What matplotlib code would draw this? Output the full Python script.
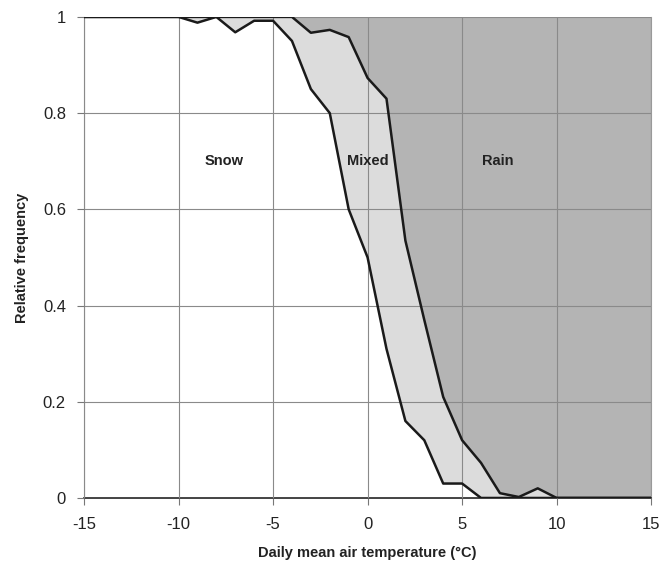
import matplotlib
matplotlib.use("Agg")
import matplotlib.pyplot as plt
import numpy as np

plt.rcParams['font.family'] = ['Liberation Sans', 'DejaVu Sans']
plt.rcParams['axes.unicode_minus'] = False

# daily mean air temperature (deg C)
temp = list(range(-15, 16))
# cumulative relative frequency: snow, snow + mixed
snow = [1, 1, 1, 1, 1, 1, 0.988, 1.0, 0.968, 0.992, 0.992, 0.95, 0.85, 0.80,
        0.60, 0.50, 0.31, 0.16, 0.12, 0.03, 0.03, 0, 0, 0, 0, 0, 0, 0, 0, 0, 0]
snow_mixed = [1, 1, 1, 1, 1, 1, 1, 1, 1, 1, 1, 1, 0.967, 0.973, 0.958, 0.873,
              0.83, 0.535, 0.37, 0.21, 0.12, 0.073, 0.01, 0.002, 0.02, 0,
              0, 0, 0, 0, 0]
labels = ["Snow", "Mixed", "Rain"]
label_x = [-7.6, 0, 6.9]

x = np.array(temp)
lo = np.array(snow)
hi = np.array(snow_mixed)

fig = plt.figure(figsize=(6.72, 5.63), dpi=100)
ax = fig.add_axes([0.125, 0.1155, 0.844, 0.8545])

ax.fill_between(x, hi, 1, color='#b4b4b4', lw=0, zorder=1)
ax.fill_between(x, lo, hi, color='#dcdcdc', lw=0, zorder=1)

ax.set_axisbelow(False)
ax.grid(True, color='#8a8a8a', lw=0.8)
for gl in ax.get_xgridlines() + ax.get_ygridlines():
    gl.set_zorder(2)

ax.plot(x, lo, color='#1a1a1a', lw=1.8, zorder=3)
ax.plot(x, hi, color='#1a1a1a', lw=1.8, zorder=3)

for t, lx in zip(labels, label_x):
    ax.text(lx, 0.70, t, ha='center', va='center', fontsize=10.5,
            fontweight='bold', color='#222222', zorder=4)

ax.set_xlim(-15, 15)
ax.set_ylim(0, 1)
ax.set_xticks(range(-15, 16, 5))
ax.set_yticks([0, 0.2, 0.4, 0.6, 0.8, 1])
ax.set_yticklabels(['0', '0.2', '0.4', '0.6', '0.8', '1'])
ax.tick_params(labelsize=12, length=5, width=0.8, color='#777777',
               labelcolor='#222222')
ax.tick_params(axis='x', pad=9)
ax.tick_params(axis='y', pad=8)

ax.spines['top'].set_visible(False)
ax.spines['right'].set_color('#999999')
ax.spines['left'].set_color('#777777')
ax.spines['bottom'].set_color('#222222')
ax.spines['bottom'].set_linewidth(1.2)

ax.set_xlabel('Daily mean air temperature (°C)', fontsize=10.5,
              fontweight='bold', labelpad=10, color='#222222')
ax.set_ylabel('Relative frequency', fontsize=10.5, fontweight='bold',
              labelpad=10, color='#222222')

fig.savefig('out.png', dpi=100)
